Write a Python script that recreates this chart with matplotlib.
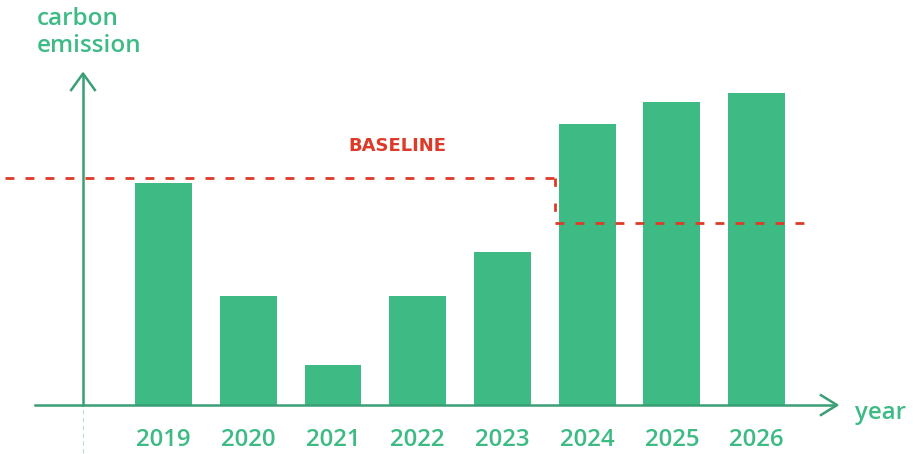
import matplotlib.pyplot as plt
import numpy as np

# yearly emission values (arbitrary units)
years = ["2019", "2020", "2021", "2022", "2023", "2024", "2025", "2026"]
emission = [74, 36.3, 13.3, 36.3, 51, 93.7, 101, 104]
baseline = 75.7
target = 60.7

green = "#3ebb85"
axis_green = "#3a9f74"
red = "#dd3b2a"
font = ["Open Sans", "DejaVu Sans"]

fig = plt.figure(figsize=(9.15, 4.54), dpi=100)
ax = fig.add_axes([0, 0, 1, 1])
ax.set_xlim(-1.93, 8.87)
ax.set_ylim(-16.3, 135)
ax.axis("off")

x = np.arange(len(years))
ax.bar(x, emission, width=0.67, color=green, zorder=2)

# axes drawn by hand with arrow heads
ax.plot([-1.52, 7.93], [0, 0], color=axis_green, lw=1.8, zorder=3)
ax.plot([-0.95, -0.95], [0, 110], color=axis_green, lw=1.8, zorder=3)
ax.plot([-0.95, -0.95], [-16, 0], color=axis_green, lw=0.8, alpha=0.35, ls=(0, (4, 3)))
ax.plot([-1.52, -0.95], [0, 0], color=axis_green, lw=0.8, alpha=0.3)
ax.plot([7.76, 7.95, 7.76], [3.3, 0, -3.3], color=axis_green, lw=1.8, zorder=3)
ax.plot([-1.09, -0.95, -0.81], [105, 110.5, 105], color=axis_green, lw=1.8, zorder=3)

# baseline and target steps
dash = (0, (3.2, 4))
ax.plot([-1.87, 4.62], [baseline, baseline], color=red, lw=2, ls=dash, zorder=4)
ax.plot([4.62, 4.62], [baseline, target], color=red, lw=2, ls=(0, (3, 6)), zorder=4)
ax.plot([4.62, 7.66], [target, target], color=red, lw=2, ls=dash, zorder=4)
ax.text(2.76, 86.3, "BASELINE", color=red, fontsize=13, fontweight="bold",
        ha="center", va="center", family="DejaVu Sans")

# labels
for xi, lab in zip(x, years):
    ax.text(xi, -11.7, lab, color=green, fontsize=17.3, fontweight="semibold",
            ha="center", va="center", family=font)
ax.text(-1.5, 124.2, "carbon\nemission", color=green, fontsize=17.5, fontweight="semibold",
        ha="left", va="center", linespacing=1.15, family=font)
ax.text(8.16, -2.7, "year", color=green, fontsize=17.3, fontweight="semibold",
        ha="left", va="center", family=font)

fig.savefig("out.png", dpi=100)
